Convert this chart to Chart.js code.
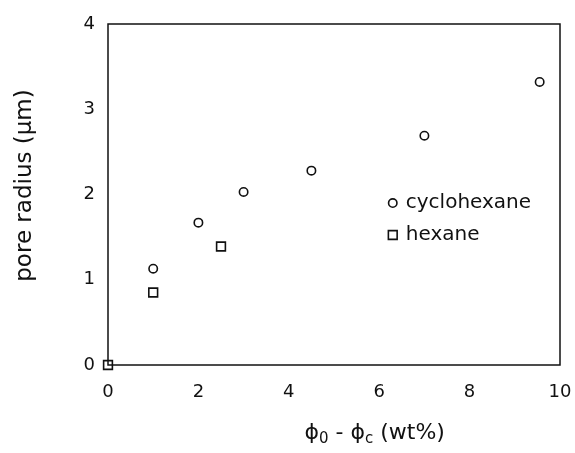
<!DOCTYPE html>
<html>
<head>
<meta charset="utf-8">
<script src="https://cdn.jsdelivr.net/npm/chart.js@4"></script>
<style>
  html, body { margin: 0; padding: 0; background: #fff; }
  #wrap { width: 575px; height: 453px; }
</style>
</head>
<body>
<div id="wrap"><canvas id="graph1" width="575" height="453"></canvas></div>
<script>
    var cyclohexaneX = [1.0, 2.0, 3.0, 4.5, 7.0, 9.55];
    var cyclohexaneY = [1.13, 1.67, 2.03, 2.28, 2.69, 3.32];
    var hexaneX = [0, 1.0, 2.5];
    var hexaneY = [0, 0.85, 1.39];
    var xTicks = [0, 2, 4, 6, 8, 10];
    var yTicks = [0, 1, 2, 3, 4];
    var seriesNames = ['cyclohexane', 'hexane'];

    var ink = '#111';
    var fontFamily = '"DejaVu Sans", sans-serif';

function toPoints(xs, ys) {
    var pts = [];
    for (var i = 0; i < xs.length; i++) {
        pts.push({ x: xs[i], y: ys[i] });
    }
    return pts;
};

// frame, legend and axis titles drawn by hand
var decorPlugin = {
    id: 'decor',
    afterDraw: function(chart) {
        var ctx = chart.ctx;
        var a = chart.chartArea;
        ctx.save();
        ctx.strokeStyle = ink;
        ctx.lineWidth = 1.5;
        ctx.strokeRect(a.left, a.top, a.right - a.left, a.bottom - a.top);

        // legend inside plot
        ctx.font = '20px ' + fontFamily;
        ctx.textBaseline = 'middle';
        var lx = a.left + (a.right - a.left) * 0.63;
        var ly = a.top + (a.bottom - a.top) * 0.525;
        var styles = ['circle', 'rect'];
        var radii = [4.2, 6.2];
        for (var i = 0; i < seriesNames.length; i++) {
            var y = ly + i * 32;
            ctx.fillStyle = 'rgba(0,0,0,0)';
            ctx.lineWidth = 1.6;
            Chart.helpers.drawPoint(ctx, { pointStyle: styles[i], radius: radii[i], borderWidth: 1.6 }, lx, y);
            ctx.fillStyle = ink;
            ctx.fillText(seriesNames[i], lx + 13, y);
        }

        // x title with subscripts
        var parts = [['\u03D5', 22, 0], ['0', 15, 4], [' - \u03D5', 22, 0], ['c', 15, 4], [' (wt%)', 22, 0]];
        var total = 0;
        parts.forEach(function(p) {
            ctx.font = p[1] + 'px ' + fontFamily;
            total += ctx.measureText(p[0]).width;
        });
        var x = a.left + (a.right - a.left) * 0.59 - total / 2;
        var baseY = a.bottom + 74;
        ctx.textBaseline = 'alphabetic';
        parts.forEach(function(p) {
            ctx.font = p[1] + 'px ' + fontFamily;
            ctx.fillText(p[0], x, baseY + p[2]);
            x += ctx.measureText(p[0]).width;
        });

        // y title
        ctx.translate(25, (a.top + a.bottom) / 2 - 9);
        ctx.rotate(-Math.PI / 2);
        ctx.font = '23px ' + fontFamily;
        ctx.textAlign = 'center';
        ctx.textBaseline = 'middle';
        ctx.fillText('pore radius (\u00B5m)', 0, 0);
        ctx.restore();
    }
};

window.onload = function() {
    var ctx = document.getElementById('graph1').getContext('2d');
    window.poreChart = new Chart(ctx, {
        type: 'scatter',
        data: {
            datasets: [{
                label: seriesNames[0],
                data: toPoints(cyclohexaneX, cyclohexaneY),
                pointStyle: 'circle',
                pointRadius: 4.2,
                borderWidth: 1.6,
                borderColor: ink,
                backgroundColor: 'rgba(0,0,0,0)',
                clip: false
            }, {
                label: seriesNames[1],
                data: toPoints(hexaneX, hexaneY),
                pointStyle: 'rect',
                pointRadius: 6.2,
                borderWidth: 1.6,
                borderColor: ink,
                backgroundColor: 'rgba(0,0,0,0)',
                clip: false
            }]
        },
        options: {
            responsive: false,
            animation: false,
            layout: {
                padding: { top: 24, right: 15, left: 0, bottom: 0 }
            },
            plugins: {
                legend: { display: false },
                tooltip: { enabled: false }
            },
            scales: {
                x: {
                    type: 'linear',
                    min: 0,
                    max: 10,
                    afterBuildTicks: function(scale) {
                        scale.ticks = xTicks.map(function(v) { return { value: v }; });
                    },
                    afterFit: function(scale) {
                        scale.height = 88;
                        scale.paddingLeft = 0;
                        scale.paddingRight = 0;
                    },
                    grid: { display: false, drawTicks: false },
                    border: { display: false },
                    ticks: {
                        color: ink,
                        padding: 17,
                        maxRotation: 0,
                        font: { family: fontFamily, size: 18 }
                    }
                },
                y: {
                    type: 'linear',
                    min: 0,
                    max: 4,
                    afterBuildTicks: function(scale) {
                        scale.ticks = yTicks.map(function(v) { return { value: v }; });
                    },
                    afterFit: function(scale) {
                        scale.width = 108;
                        scale.paddingTop = 0;
                        scale.paddingBottom = 0;
                    },
                    grid: { display: false, drawTicks: false },
                    border: { display: false },
                    ticks: {
                        color: ink,
                        padding: 13,
                        font: { family: fontFamily, size: 18 }
                    }
                }
            }
        },
        plugins: [decorPlugin]
    });
};
</script>
</body>
</html>
